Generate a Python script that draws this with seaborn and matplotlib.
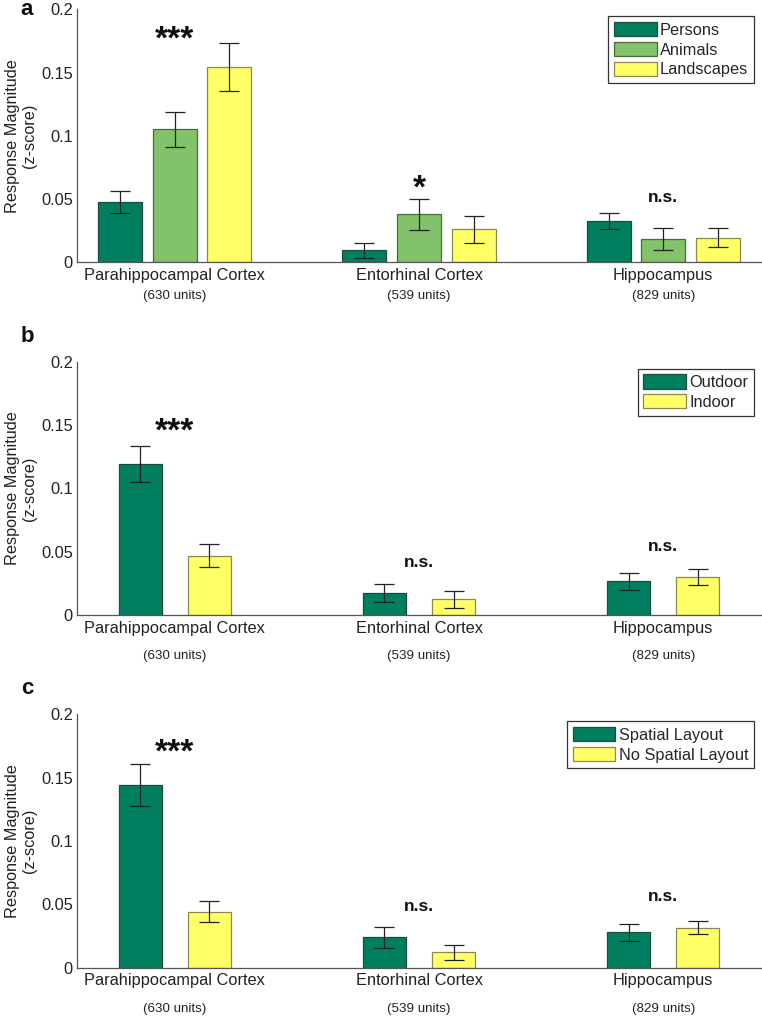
import numpy as np
import pandas as pd
import matplotlib
matplotlib.use("Agg")
import matplotlib.pyplot as plt
import matplotlib.patches as mpatches
import seaborn as sns

# ---------------- data ----------------
regions = ["Parahippocampal Cortex", "Entorhinal Cortex", "Hippocampus"]
units = ["(630 units)", "(539 units)", "(829 units)"]
yticks = [0, 0.05, 0.1, 0.15, 0.2]
ytick_labels = ["0", "0.05", "0.1", "0.15", "0.2"]

a_conds = ["Persons", "Animals", "Landscapes"]
a_persons = [0.0474, 0.0095, 0.0327]
a_animals = [0.1051, 0.0379, 0.0182]
a_landscapes = [0.1541, 0.0261, 0.0195]
a_persons_sem = [0.0086, 0.0058, 0.0060]
a_animals_sem = [0.0136, 0.0123, 0.0088]
a_landscapes_sem = [0.0190, 0.0107, 0.0078]
a_sig = ["***", "*", "n.s."]
a_sig_y = [0.169, 0.0515, 0.048]

b_conds = ["Outdoor", "Indoor"]
b_outdoor = [0.1191, 0.0173, 0.0268]
b_indoor = [0.0468, 0.0126, 0.0300]
b_outdoor_sem = [0.0142, 0.0071, 0.0066]
b_indoor_sem = [0.0091, 0.0066, 0.0062]
b_sig = ["***", "n.s.", "n.s."]
b_sig_y = [0.138, 0.0384, 0.0507]

c_conds = ["Spatial Layout", "No Spatial Layout"]
c_spatial = [0.1442, 0.0239, 0.0279]
c_nospatial = [0.0442, 0.0121, 0.0316]
c_spatial_sem = [0.0165, 0.0084, 0.0067]
c_nospatial_sem = [0.0084, 0.0059, 0.0053]
c_sig = ["***", "n.s.", "n.s."]
c_sig_y = [0.163, 0.0447, 0.0526]

DARK = "#007F60"
MID = "#82C26A"
YEL = "#FFFF66"
EDGES = {DARK: "#1E4A3C", MID: "#4A6A3A", YEL: "#8A8A50"}

sns.set_theme(style="white")
plt.rcParams["font.family"] = ["Liberation Sans", "DejaVu Sans"]

fig = plt.figure(figsize=(7.62, 10.18), dpi=100)
W, H = 762.0, 1018.0


def make_axes(top_px, bot_px):
    left, right = 77.0, 761.0
    return fig.add_axes([left / W, 1 - bot_px / H, (right - left) / W, (bot_px - top_px) / H])


panels = [
    dict(letter="a", top=9.3, bot=262.3, conds=a_conds,
         means=[a_persons, a_animals, a_landscapes],
         sems=[a_persons_sem, a_animals_sem, a_landscapes_sem],
         colors=[DARK, MID, YEL], width=0.67, gap=0.193,
         sig=a_sig, sig_y=a_sig_y, units_off=24.5, letter_y=9.5),
    dict(letter="b", top=361.7, bot=615.3, conds=b_conds,
         means=[b_outdoor, b_indoor], sems=[b_outdoor_sem, b_indoor_sem],
         colors=[DARK, YEL], width=0.566, gap=0.378,
         sig=b_sig, sig_y=b_sig_y, units_off=29.3, letter_y=336),
    dict(letter="c", top=714.3, bot=967.7, conds=c_conds,
         means=[c_spatial, c_nospatial], sems=[c_spatial_sem, c_nospatial_sem],
         colors=[DARK, YEL], width=0.566, gap=0.378,
         sig=c_sig, sig_y=c_sig_y, units_off=29.7, letter_y=689),
]

for p in panels:
    ax = make_axes(p["top"], p["bot"])
    rows = []
    for cond, vals, errs in zip(p["conds"], p["means"], p["sems"]):
        for reg, v, e in zip(regions, vals, errs):
            rows.append(dict(region=reg, cond=cond, value=v, sem=e))
    df = pd.DataFrame(rows)
    sns.barplot(data=df, x="region", y="value", hue="cond", order=regions,
                hue_order=p["conds"], palette=p["colors"], width=p["width"],
                gap=p["gap"], errorbar=None, saturation=1, linewidth=0.9,
                legend=False, ax=ax)
    for cont, col, errs in zip(ax.containers, p["colors"], p["sems"]):
        xs, ys = [], []
        for bar in cont:
            bar.set_edgecolor(EDGES[col])
            xs.append(bar.get_x() + bar.get_width() / 2)
            ys.append(bar.get_height())
        ax.errorbar(xs, ys, yerr=errs, fmt="none", ecolor="#222222",
                    elinewidth=0.9, capsize=7.5, capthick=0.9, zorder=3)

    ax.set_xlim(-0.4, 2.4)
    ax.set_ylim(0, 0.2)
    ax.set_yticks(yticks)
    ax.set_yticklabels(ytick_labels)
    ax.set_xlabel("")
    ax.set_ylabel("Response Magnitude\n(z-score)", fontsize=11.7, color="#222222",
                  linespacing=1.2)
    ax.yaxis.set_label_coords(-0.058, 0.5)
    ax.set_axisbelow(True)
    for s in ["top", "right"]:
        ax.spines[s].set_visible(False)
    for s in ["left", "bottom"]:
        ax.spines[s].set_color("#555555")
        ax.spines[s].set_linewidth(0.9)
    ax.tick_params(axis="both", direction="in", length=4.8, width=0.8,
                   color="#555555", labelsize=11.8, labelcolor="#222222")
    ax.tick_params(axis="x", pad=4)
    ax.tick_params(axis="y", pad=3, length=4.2)

    # unit annotations under the region names
    for i, u in enumerate(units):
        ax.annotate(u, xy=(i, 0), xycoords=ax.get_xaxis_transform(),
                    xytext=(0, -p["units_off"]), textcoords="offset points",
                    ha="center", va="center", fontsize=9.6, color="#222222")

    # significance markers
    for i, (s, yv) in enumerate(zip(p["sig"], p["sig_y"])):
        fs = 24 if "*" in s else 12.5
        ax.text(i, yv, s, ha="center", va="baseline", fontsize=fs,
                fontweight="bold", color="#111111")

    handles = [mpatches.Patch(facecolor=c, edgecolor=EDGES[c], linewidth=0.9, label=l)
               for c, l in zip(p["colors"], p["conds"])]
    axw = 684.0
    axh = p["bot"] - p["top"]
    leg = ax.legend(handles=handles, loc="upper right",
                    bbox_to_anchor=(1 - 7 / axw, 1 - 7 / axh), borderaxespad=0,
                    fontsize=11.8, frameon=True, fancybox=False, framealpha=1,
                    edgecolor="#333333", handlelength=2.6, handleheight=0.95,
                    handletextpad=0.2, labelspacing=0.25, borderpad=0.35)
    leg.get_frame().set_linewidth(0.9)

    fig.text(27 / W, 1 - p["letter_y"] / H, p["letter"], fontsize=16,
             fontweight="bold", ha="center", va="center", color="#111111")

fig.savefig("out.png", dpi=100)
